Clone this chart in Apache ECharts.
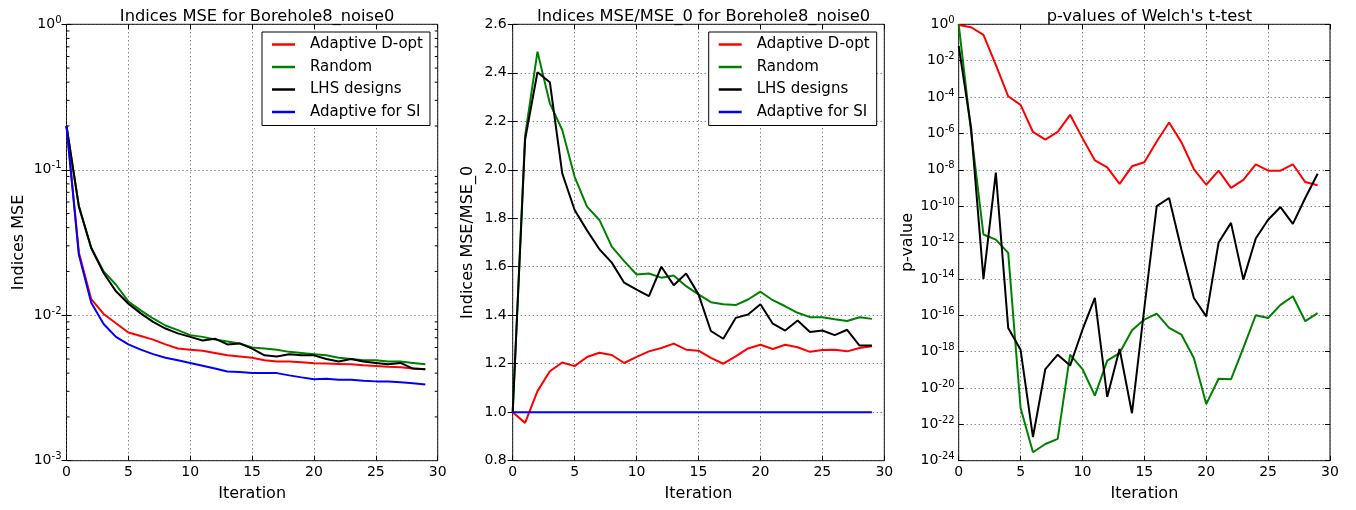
<!DOCTYPE html>
<html><head><meta charset="utf-8">
<script src="https://cdn.jsdelivr.net/npm/echarts@6/dist/echarts.min.js"></script>
<style>html,body{margin:0;padding:0;background:#fff}#c{width:1356px;height:510px}</style>
</head><body><div id="c"></div>
<script>
// ---------- data ----------
const iterations = [0,1,2,3,4,5,6,7,8,9,10,11,12,13,14,15,16,17,18,19,20,21,22,23,24,25,26,27,28,29];
const seriesNames = ['Adaptive D-opt', 'Random', 'LHS designs', 'Adaptive for SI'];

// Panel 1: Indices MSE (log scale)
const mseDopt    = [0.2, 0.027, 0.0129, 0.0102, 0.0088, 0.0076, 0.0072, 0.0068, 0.0063, 0.0059, 0.0058, 0.0057, 0.0055, 0.0053, 0.0052, 0.0051, 0.0049, 0.0048, 0.0048, 0.00476, 0.00467, 0.00465, 0.00463, 0.0046, 0.00453, 0.00448, 0.00443, 0.00439, 0.0043, 0.00425];
const mseRandom  = [0.2, 0.056, 0.029, 0.020, 0.0162, 0.0124, 0.0108, 0.0095, 0.0085, 0.0079, 0.0073, 0.0071, 0.0068, 0.0066, 0.0064, 0.0060, 0.0059, 0.0058, 0.0056, 0.0055, 0.0054, 0.0053, 0.0051, 0.0050, 0.0049, 0.0049, 0.0048, 0.0048, 0.0047, 0.0046];
const mseLHS     = [0.2, 0.056, 0.029, 0.0195, 0.0146, 0.0120, 0.0103, 0.0090, 0.0081, 0.0075, 0.0071, 0.0067, 0.0069, 0.0063, 0.0064, 0.0059, 0.0053, 0.0052, 0.0054, 0.0053, 0.0053, 0.0050, 0.0048, 0.0050, 0.0048, 0.0047, 0.0046, 0.0047, 0.0043, 0.00425];
const mseAdaptSI = [0.2, 0.026, 0.0122, 0.0087, 0.0071, 0.0063, 0.0058, 0.0054, 0.0051, 0.0049, 0.0047, 0.0045, 0.0043, 0.0041, 0.00407, 0.0040, 0.0040, 0.0040, 0.00386, 0.00374, 0.00363, 0.00366, 0.0036, 0.0036, 0.00355, 0.00351, 0.0035, 0.00346, 0.00341, 0.00334];

// Panel 2: Indices MSE / MSE_0
const ratioDopt    = [1.0, 0.956, 1.087, 1.169, 1.205, 1.19, 1.228, 1.245, 1.236, 1.203, 1.228, 1.251, 1.265, 1.283, 1.258, 1.254, 1.224, 1.2, 1.23, 1.263, 1.278, 1.261, 1.278, 1.268, 1.249, 1.257, 1.258, 1.251, 1.265, 1.272];
const ratioRandom  = [1.0, 2.14, 2.487, 2.274, 2.164, 1.971, 1.848, 1.793, 1.683, 1.623, 1.568, 1.572, 1.555, 1.564, 1.52, 1.486, 1.454, 1.445, 1.442, 1.465, 1.497, 1.462, 1.437, 1.41, 1.392, 1.392, 1.383, 1.376, 1.392, 1.385];
const ratioLHS     = [1.0, 2.125, 2.402, 2.361, 1.985, 1.834, 1.75, 1.672, 1.617, 1.534, 1.506, 1.479, 1.6, 1.524, 1.572, 1.486, 1.335, 1.303, 1.389, 1.403, 1.445, 1.365, 1.337, 1.378, 1.331, 1.337, 1.318, 1.34, 1.275, 1.275];
const ratioAdaptSI = [1.0, 1.0, 1.0, 1.0, 1.0, 1.0, 1.0, 1.0, 1.0, 1.0, 1.0, 1.0, 1.0, 1.0, 1.0, 1.0, 1.0, 1.0, 1.0, 1.0, 1.0, 1.0, 1.0, 1.0, 1.0, 1.0, 1.0, 1.0, 1.0, 1.0];

// Panel 3: p-values of Welch's t-test (log scale)
const pDopt   = [0.92, 0.69, 0.26, 5.9e-3, 1.1e-4, 3.7e-5, 1.2e-6, 4.5e-7, 1.2e-6, 1.05e-5, 5.5e-7, 3.3e-8, 1.35e-8, 1.66e-9, 1.55e-8, 2.6e-8, 3.6e-7, 4.0e-6, 3.2e-7, 1.1e-8, 1.5e-9, 8.9e-9, 1.0e-9, 2.8e-9, 2.0e-8, 8.9e-9, 8.9e-9, 2.0e-8, 2.1e-9, 1.4e-9];
const pRandom = [1.0, 1.26e-6, 2.75e-12, 1.45e-12, 2.7e-13, 7.9e-22, 2.9e-24, 8.3e-24, 1.6e-23, 6.8e-19, 1.1e-19, 3.8e-21, 3.2e-19, 8.3e-19, 1.5e-17, 5.8e-17, 1.23e-16, 2.0e-17, 8.5e-18, 4.4e-19, 1.3e-21, 3.2e-20, 3.0e-20, 1.6e-18, 1.0e-16, 7.1e-17, 3.7e-16, 1.1e-15, 4.7e-17, 1.3e-16];
const pLHS    = [0.063, 2.0e-6, 1.0e-14, 7.0e-9, 2.0e-17, 1.26e-18, 2.0e-23, 1.1e-19, 6.8e-19, 1.7e-19, 1.6e-17, 8.9e-16, 3.2e-21, 1.4e-18, 4.1e-22, 2.5e-16, 1.0e-10, 2.8e-10, 4.0e-13, 8.9e-16, 8.7e-17, 1.0e-12, 1.2e-11, 9.1e-15, 1.66e-12, 1.8e-11, 8.9e-11, 1.05e-11, 2.8e-10, 6.0e-9];

// Tick labels
const xTicks = [0, 5, 10, 15, 20, 25, 30];
const mseTickExponents = [-3, -2, -1, 0];
const mseMinorTicks = [0.002,0.003,0.004,0.005,0.006,0.007,0.008,0.009,0.02,0.03,0.04,0.05,0.06,0.07,0.08,0.09,0.2,0.3,0.4,0.5,0.6,0.7,0.8,0.9];
const ratioTicks = [0.8, 1.0, 1.2, 1.4, 1.6, 1.8, 2.0, 2.2, 2.4, 2.6];
const pTickExponents = [-24,-22,-20,-18,-16,-14,-12,-10,-8,-6,-4,-2,0];

const titles = ['Indices MSE for Borehole8_noise0', 'Indices MSE/MSE_0 for Borehole8_noise0', "p-values of Welch's t-test"];
const yNames = ['Indices MSE', 'Indices MSE/MSE_0', 'p-value'];
const colors = { 'Adaptive D-opt': '#ff0000', 'Random': '#008000', 'LHS designs': '#000000', 'Adaptive for SI': '#0000ff' };

// ---------- layout / style ----------
const FONT = 'DejaVu Sans';
const grids = [
  { left: 66.5, top: 24.3, width: 371.2, height: 436.4 },
  { left: 512.7, top: 24.3, width: 371.6, height: 436.4 },
  { left: 958.7, top: 24.3, width: 371.3, height: 436.4 }
];
const gridLine = { show: true, lineStyle: { color: '#555', type: [1, 3], width: 1 } };
const tickIn = { show: true, inside: true, length: 5, lineStyle: { color: '#000', width: 1 } };
const supRich = {
  b: { fontSize: 14, fontFamily: FONT, color: '#000', lineHeight: 18, verticalAlign: 'middle' },
  s: { fontSize: 10, fontFamily: FONT, color: '#000', lineHeight: 10, verticalAlign: 'top' }
};
function powLabel(e) { return '{b|10}{s|' + (e < 0 ? '-' + (-e) : e) + '}'; }
function zip(xs, ys) { return xs.map((x, i) => [x, ys[i]]); }

const xAxes = [], yAxes = [];
grids.forEach((g, i) => {
  xAxes.push({
    type: 'value', gridIndex: i, position: 'bottom',
    min: xTicks[0], max: xTicks[xTicks.length - 1], interval: xTicks[1] - xTicks[0],
    axisLine: { show: false }, axisTick: tickIn, splitLine: gridLine,
    axisLabel: { fontSize: 14, color: '#000', fontFamily: FONT, margin: 5 },
    name: 'Iteration', nameLocation: 'middle', nameGap: 25,
    nameTextStyle: { fontSize: 16, color: '#000', fontFamily: FONT }
  });
  xAxes.push({
    type: 'value', gridIndex: i, position: 'top',
    min: xTicks[0], max: xTicks[xTicks.length - 1], interval: xTicks[1] - xTicks[0],
    axisLine: { show: false }, axisTick: tickIn, splitLine: { show: false }, axisLabel: { show: false }
  });
});
const yNameStyle = { fontSize: 16, color: '#000', fontFamily: FONT };
// panel 1: log
yAxes.push({
  type: 'log', logBase: 10, gridIndex: 0, position: 'left',
  min: Math.pow(10, mseTickExponents[0]), max: Math.pow(10, mseTickExponents[mseTickExponents.length - 1]),
  axisLine: { show: false }, axisTick: tickIn, splitLine: gridLine,
  axisLabel: { margin: 5, formatter: v => powLabel(Math.round(Math.log10(v))), rich: supRich },
  name: yNames[0], nameLocation: 'middle', nameGap: 40, nameTextStyle: yNameStyle
});
yAxes.push({
  type: 'log', logBase: 10, gridIndex: 0, position: 'right',
  min: Math.pow(10, mseTickExponents[0]), max: Math.pow(10, mseTickExponents[mseTickExponents.length - 1]),
  axisLine: { show: false }, axisTick: tickIn, splitLine: { show: false }, axisLabel: { show: false }
});
// panel 2: linear
yAxes.push({
  type: 'value', gridIndex: 1, position: 'left',
  min: ratioTicks[0], max: ratioTicks[ratioTicks.length - 1], interval: 0.2,
  axisLine: { show: false }, axisTick: tickIn, splitLine: gridLine,
  axisLabel: { fontSize: 14, color: '#000', fontFamily: FONT, margin: 6, formatter: v => v.toFixed(1) },
  name: yNames[1], nameLocation: 'middle', nameGap: 37, nameTextStyle: yNameStyle
});
yAxes.push({
  type: 'value', gridIndex: 1, position: 'right',
  min: ratioTicks[0], max: ratioTicks[ratioTicks.length - 1], interval: 0.2,
  axisLine: { show: false }, axisTick: tickIn, splitLine: { show: false }, axisLabel: { show: false }
});
// panel 3: log scale carrying the series (hidden) + exponent axes for every-2-decade ticks
yAxes.push({
  type: 'log', logBase: 10, gridIndex: 2, position: 'left', show: false,
  min: Math.pow(10, pTickExponents[0]), max: Math.pow(10, pTickExponents[pTickExponents.length - 1])
});
yAxes.push({
  type: 'value', gridIndex: 2, position: 'left',
  min: pTickExponents[0], max: pTickExponents[pTickExponents.length - 1], interval: 2,
  axisLine: { show: false }, axisTick: tickIn, splitLine: gridLine,
  axisLabel: { margin: 4, formatter: v => powLabel(Math.round(v)), rich: supRich },
  name: yNames[2], nameLocation: 'middle', nameGap: 43, nameTextStyle: yNameStyle
});
yAxes.push({
  type: 'value', gridIndex: 2, position: 'right',
  min: pTickExponents[0], max: pTickExponents[pTickExponents.length - 1], interval: 2,
  axisLine: { show: false }, axisTick: tickIn, splitLine: { show: false }, axisLabel: { show: false }
});

function line(name, xi, yi, ys) {
  return {
    type: 'line', name: name, xAxisIndex: xi, yAxisIndex: yi, data: zip(iterations, ys),
    showSymbol: false, symbol: 'none', clip: true,
    lineStyle: { width: 2, color: colors[name] }, itemStyle: { color: colors[name] }
  };
}
const series = [
  line('Adaptive D-opt', 0, 0, mseDopt),
  line('Random', 0, 0, mseRandom),
  line('LHS designs', 0, 0, mseLHS),
  line('Adaptive for SI', 0, 0, mseAdaptSI),
  line('Adaptive D-opt', 2, 2, ratioDopt),
  line('Random', 2, 2, ratioRandom),
  line('LHS designs', 2, 2, ratioLHS),
  line('Adaptive for SI', 2, 2, ratioAdaptSI),
  line('Adaptive D-opt', 4, 4, pDopt),
  line('Random', 4, 4, pRandom),
  line('LHS designs', 4, 4, pLHS),
  {
    type: 'custom', name: 'minorTicks', xAxisIndex: 0, yAxisIndex: 0, silent: true, clip: false, z: 3,
    data: mseMinorTicks.map(v => [0, v]), encode: { x: 0, y: 1 },
    renderItem: function (params, api) {
      const cs = params.coordSys;
      const y = api.coord([0, api.value(1)])[1];
      return { type: 'group', children: [
        { type: 'line', shape: { x1: cs.x, y1: y, x2: cs.x + 3, y2: y }, style: { stroke: '#000', lineWidth: 1 } },
        { type: 'line', shape: { x1: cs.x + cs.width - 3, y1: y, x2: cs.x + cs.width, y2: y }, style: { stroke: '#000', lineWidth: 1 } }
      ] };
    }
  }
];

function legendAt(left) {
  return {
    data: seriesNames, orient: 'vertical', left: left, top: 32,
    padding: [5, 7, 6, 10], itemGap: 7.5, itemWidth: 23, itemHeight: 2.5, icon: 'rect',
    borderColor: '#000', borderWidth: 1, borderRadius: 0, backgroundColor: '#fff',
    selectedMode: false,
    textStyle: { fontSize: 15, lineHeight: 15, color: '#000', fontFamily: FONT, padding: [0, 0, 0, 10] }
  };
}

const option = {
  animation: false,
  backgroundColor: '#fff',
  textStyle: { fontFamily: FONT },
  title: titles.map((t, i) => ({
    text: t, left: grids[i].left + grids[i].width / 2, top: 4, textAlign: 'center',
    textStyle: { fontSize: 16.3, fontWeight: 'normal', color: '#000', fontFamily: FONT }
  })),
  legend: [legendAt(262), legendAt(708.7)],
  grid: grids.map(g => Object.assign({ show: true, borderColor: '#000', borderWidth: 1, backgroundColor: 'transparent', containLabel: false, outerBoundsMode: 'none' }, g)),
  xAxis: xAxes,
  yAxis: yAxes,
  series: series
};
const chart = echarts.init(document.getElementById('c'), null, { renderer: 'canvas' });
chart.setOption(option);
</script>
</body></html>
